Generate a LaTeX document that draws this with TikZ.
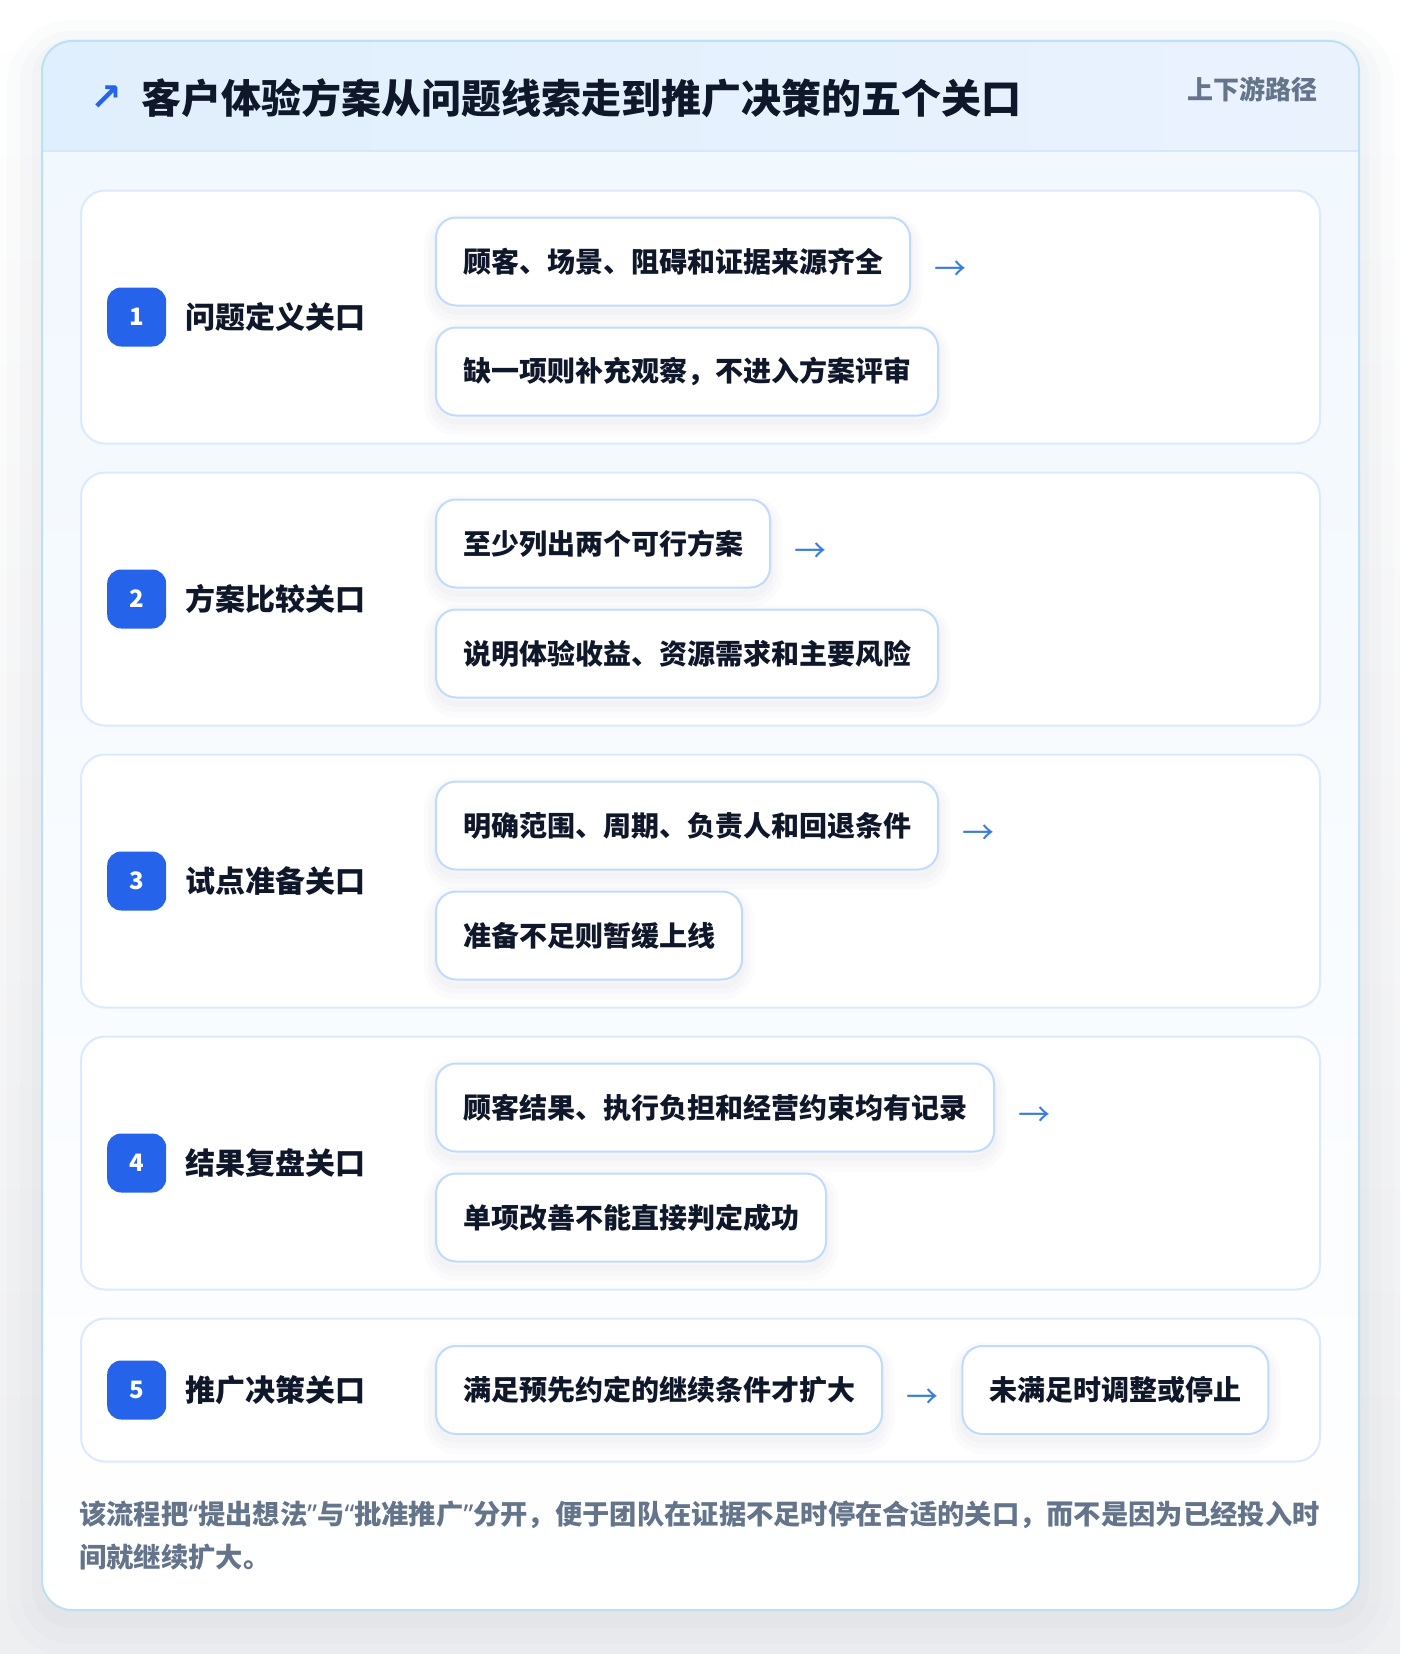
\documentclass[tikz,border=0pt]{standalone}
\usepackage{fontspec}
\setmainfont{Noto Sans CJK SC}
\newfontfamily\symfont{DejaVu Sans}
\newfontfamily\latinfont{Noto Sans}
\usetikzlibrary{positioning}

\definecolor{ink}{HTML}{0F172A}
\definecolor{muted}{HTML}{64748B}
\definecolor{brand}{HTML}{2563EB}
\definecolor{arrowblue}{HTML}{3B7DDD}
\definecolor{hdrleft}{HTML}{E0EFFD}
\definecolor{hdrright}{HTML}{EAF2FE}
\definecolor{hdrline}{HTML}{D6E8FA}
\definecolor{panelline}{HTML}{BCE0F6}
\definecolor{paneltop}{HTML}{F0F7FE}
\definecolor{cardline}{HTML}{DBEAFE}
\definecolor{itemline}{HTML}{BFDBFE}
\definecolor{pagebot}{HTML}{EEEFF1}
\definecolor{shade}{HTML}{64748B}

\newcommand{\openq}{{\latinfont “}}
\newcommand{\closeq}{{\latinfont ”}}

\tikzset{
  glow/.style={preaction={draw=shade, draw opacity=#1, transform canvas={yshift=-8pt}, line width=24pt},
    preaction={draw=shade, draw opacity=#1, transform canvas={yshift=-7pt}, line width=15pt},
    preaction={draw=shade, draw opacity=#1, transform canvas={yshift=-6pt}, line width=6pt}},
  stage/.style={draw=cardline, line width=2pt, fill=white, rounded corners=24pt,
    minimum width=1239pt, minimum height=253pt, inner sep=0pt},
  badge/.style={fill=brand, text=white, rounded corners=14pt, minimum size=59pt,
    inner sep=0pt, font=\fontsize{24pt}{26pt}\selectfont\bfseries},
  gatelab/.style={text=ink, inner sep=0pt, font=\fontsize{30pt}{36pt}\selectfont\bfseries},
  item/.style={glow=0.025, draw=itemline, line width=2pt, fill=white, rounded corners=20pt,
    minimum height=88pt, inner xsep=27pt, inner ysep=0pt, text=ink,
    font=\fontsize{28pt}{34pt}\selectfont\bfseries},
  flow/.style={text=arrowblue, inner sep=0pt, font=\fontsize{32pt}{36pt}\selectfont},
}

\begin{document}
\begin{tikzpicture}[x=1pt, y=1pt]
% page and panel
\fill[top color=white, bottom color=pagebot] (0,0) rectangle (1400,-1654);
\useasboundingbox (0,0) rectangle (1400,-1654);
\path[rounded corners=30pt,
  preaction={draw=shade, draw opacity=0.018, line width=70pt, transform canvas={yshift=-14pt}},
  preaction={draw=shade, draw opacity=0.022, line width=44pt, transform canvas={yshift=-12pt}},
  preaction={draw=shade, draw opacity=0.026, line width=20pt, transform canvas={yshift=-8pt}},
  top color=paneltop, bottom color=white]
  (42,-41) rectangle (1359,-1610);
\path[left color=hdrleft, right color=hdrright]
  (42,-151) [rounded corners=30pt] -- (42,-41) -- (1359,-41) [sharp corners] -- (1359,-151) -- cycle;
\draw[hdrline, line width=2pt] (42,-151) -- (1359,-151);
\draw[panelline, line width=2pt, rounded corners=30pt] (42,-41) rectangle (1359,-1610);

% header
\node[anchor=west, text=ink, inner sep=0pt, font=\fontsize{40pt}{48pt}\selectfont\bfseries]
  (title) at (141,-98) {客户体验方案从问题线索走到推广决策的五个关口};
\node[left=18pt of title, text=brand, inner sep=0pt, font=\symfont\fontsize{38pt}{40pt}\selectfont\bfseries]
  (icon) {↗};
\node[anchor=east, text=muted, inner sep=0pt, font=\fontsize{26pt}{30pt}\selectfont\bfseries]
  (tag) at (1318,-89) {上下游路径};

% gate 1
\node[stage, anchor=north west] (card1) at (80,-189.5) {};
\node[badge, right=27pt of card1.west] (num1) {1};
\node[gatelab, right=19pt of num1] (gate1) {问题定义关口};
\node[item, anchor=north west] (item1a) at ([xshift=355pt, yshift=-27pt]card1.north west) {顾客、场景、阻碍和证据来源齐全};
\node[item, below=20pt of item1a.south west, anchor=north west] (item1b) {缺一项则补充观察，不进入方案评审};
\node[flow, right=23pt of item1a, yshift=-9pt] (arr1) {→};

% gate 2
\node[stage, below=27pt of card1] (card2) {};
\node[badge, right=27pt of card2.west] (num2) {2};
\node[gatelab, right=19pt of num2] (gate2) {方案比较关口};
\node[item, anchor=north west] (item2a) at ([xshift=355pt, yshift=-27pt]card2.north west) {至少列出两个可行方案};
\node[item, below=20pt of item2a.south west, anchor=north west] (item2b) {说明体验收益、资源需求和主要风险};
\node[flow, right=23pt of item2a, yshift=-9pt] (arr2) {→};

% gate 3
\node[stage, below=27pt of card2] (card3) {};
\node[badge, right=27pt of card3.west] (num3) {3};
\node[gatelab, right=19pt of num3] (gate3) {试点准备关口};
\node[item, anchor=north west] (item3a) at ([xshift=355pt, yshift=-27pt]card3.north west) {明确范围、周期、负责人和回退条件};
\node[item, below=20pt of item3a.south west, anchor=north west] (item3b) {准备不足则暂缓上线};
\node[flow, right=23pt of item3a, yshift=-9pt] (arr3) {→};

% gate 4
\node[stage, below=27pt of card3] (card4) {};
\node[badge, right=27pt of card4.west] (num4) {4};
\node[gatelab, right=19pt of num4] (gate4) {结果复盘关口};
\node[item, anchor=north west] (item4a) at ([xshift=355pt, yshift=-27pt]card4.north west) {顾客结果、执行负担和经营约束均有记录};
\node[item, below=20pt of item4a.south west, anchor=north west] (item4b) {单项改善不能直接判定成功};
\node[flow, right=23pt of item4a, yshift=-9pt] (arr4) {→};

% gate 5
\node[stage, minimum height=143pt, below=27pt of card4] (card5) {};
\node[badge, right=27pt of card5.west] (num5) {5};
\node[gatelab, right=19pt of num5] (gate5) {推广决策关口};
\node[item, anchor=west] (item5a) at ([xshift=355pt]card5.west) {满足预先约定的继续条件才扩大};
\node[flow, right=23pt of item5a, yshift=-9pt] (arr5) {→};
\node[item, right=23pt of arr5, yshift=9pt] (item5b) {未满足时调整或停止};

% footer note
\node[anchor=north west, align=left, text=muted, inner sep=0pt,
  font=\fontsize{27.3pt}{43pt}\selectfont\bfseries] (note) at (79,-1501)
  {该流程把\openq 提出想法\closeq 与\openq 批准推广\closeq 分开，便于团队在证据不足时停在合适的关口，而不是因为已经投入时\\间就继续扩大。};
\end{tikzpicture}
\end{document}
